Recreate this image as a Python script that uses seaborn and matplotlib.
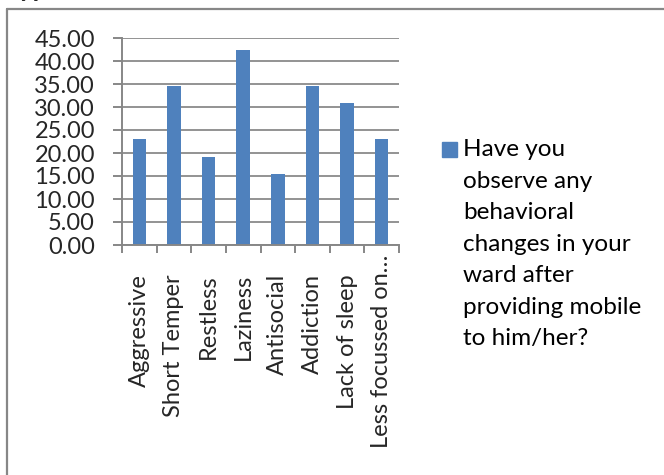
import matplotlib
matplotlib.use("Agg")
import matplotlib.pyplot as plt
import matplotlib.transforms as mtransforms
from matplotlib.patches import Rectangle
from matplotlib.lines import Line2D
import seaborn as sns
import pandas as pd

# data (percent of respondents)
categories = ["Aggressive", "Short Temper", "Restless", "Laziness",
              "Antisocial", "Addiction", "Lack of sleep", "Less focussed on\u2026"]
percent = [23.08, 34.62, 19.23, 42.31, 15.38, 34.62, 30.77, 23.08]
ytick_vals = [0, 5, 10, 15, 20, 25, 30, 35, 40, 45]
series_name = ("Have you\nobserve any\nbehavioral\nchanges in your\n"
               "ward after\nproviding mobile\nto him/her?")

bar_col = "#4F81BD"
grey = "#878787"

sns.set_style("white")
plt.rcParams["font.family"] = ["Lato", "DejaVu Sans"]

W, H = 664, 475
fig = plt.figure(figsize=(W / 100, H / 100), dpi=100)
fig.patch.set_facecolor("white")

# plot area in pixels: x 122..399, y 38..245
ax = fig.add_axes([122 / W, (H - 245) / H, 277 / W, 207 / H])

df = pd.DataFrame({"cat": categories, "pct": percent})
sns.barplot(data=df, x="cat", y="pct", color=bar_col, saturation=1,
            width=0.39, ax=ax, edgecolor="none")

ax.set_ylim(0, 45)
ax.set_xlim(-0.5, len(categories) - 0.5)
ax.set_yticks(ytick_vals)
ax.set_yticklabels([f"{v:.2f}" for v in ytick_vals])
ax.set_xlabel("")
ax.set_ylabel("")

ax.set_axisbelow(True)
ax.yaxis.grid(True, color="#939393", lw=1.4)
ax.xaxis.grid(False)
for s in ["top", "right"]:
    ax.spines[s].set_visible(False)
for s in ["left", "bottom"]:
    ax.spines[s].set_color(grey)
    ax.spines[s].set_linewidth(1.4)

ax.tick_params(axis="y", direction="out", length=6.5, width=1.4, color=grey,
               pad=13, labelsize=17, left=True)
ax.set_xticks(range(len(categories)))
ax.set_xticklabels(categories, rotation=90)
ax.tick_params(axis="x", which="major", length=0, pad=21, labelsize=17)
ax.set_xticks([i - 0.5 for i in range(len(categories) + 1)], minor=True)
ax.tick_params(axis="x", which="minor", direction="out", length=6, width=1.4,
               color=grey, bottom=True)

# the long last label sits higher, as in the original
lab = ax.get_xticklabels()[-1]
lab.set_transform(lab.get_transform() +
                  mtransforms.ScaledTranslation(0, 19 / 100, fig.dpi_scale_trans))

# legend drawn by hand so the swatch lines up with the first line
fig.patches.append(Rectangle((441.5 / W, (H - 156.5) / H), 15 / W, 14.5 / H,
                             transform=fig.transFigure, color=bar_col))
fig.text(463 / W, (H - 139) / H, series_name, va="top", ha="left",
         fontsize=17.5, linespacing=1.62, color="black")

# chart frame (only left and top edges are inside the crop)
fig.add_artist(Line2D([7 / W, 7 / W], [0, (H - 9) / H],
                      transform=fig.transFigure, color=grey, lw=1.6))
fig.add_artist(Line2D([7 / W, 1], [(H - 9) / H, (H - 9) / H],
                      transform=fig.transFigure, color=grey, lw=1.6))

# cut-off title above the frame
fig.text(4 / W, (H + 3) / H, "Type", fontsize=19, fontweight="bold",
         va="baseline", ha="left")

fig.savefig("out.png", dpi=100)
